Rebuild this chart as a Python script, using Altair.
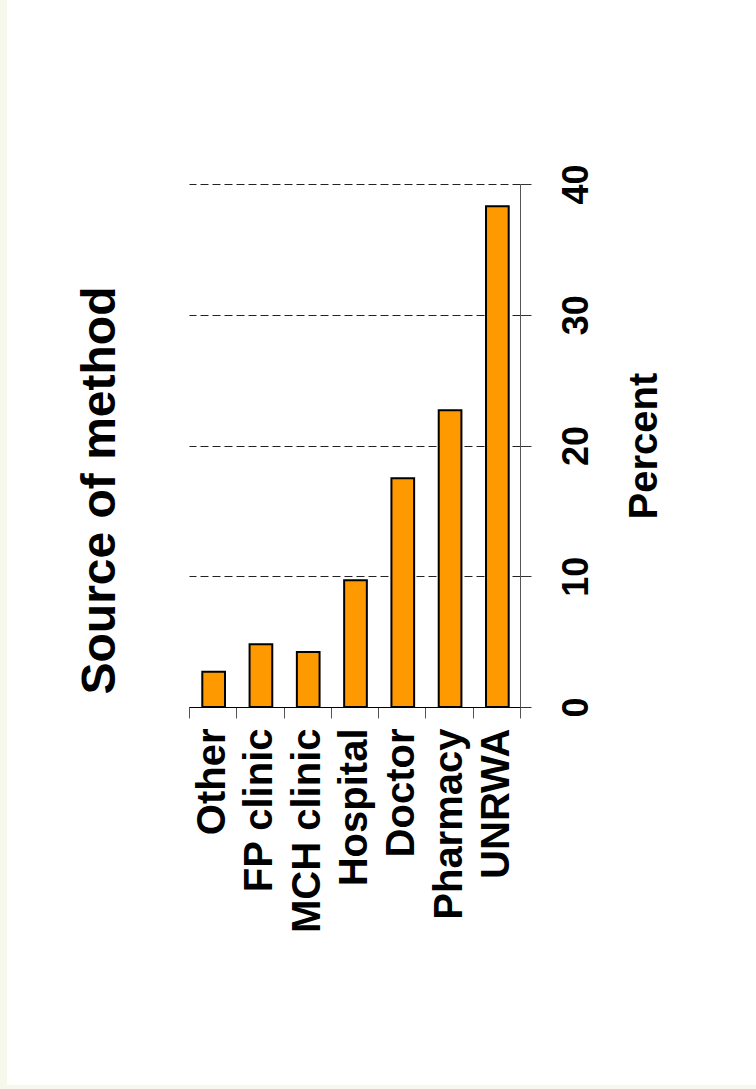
import altair as alt
import pandas as pd

# Where the method was obtained, share of users (%)
sources = ["Other", "FP clinic", "MCH clinic", "Hospital", "Doctor", "Pharmacy", "UNRWA"]
percent = [2.7, 4.8, 4.2, 9.7, 17.5, 22.7, 38.3]
percent_ticks = [0, 10, 20, 30, 40]

FONT = "Liberation Sans"
CREAM = "#f5f8ea"

df = pd.DataFrame({"source": sources, "percent": percent})

bars = alt.Chart(df).mark_bar(
    fill="#ff9900",
    stroke="black",
    strokeWidth=2,
    width=alt.RelativeBandSize(0.48),
    xOffset=1,
).encode(
    x=alt.X(
        "source:N",
        sort=sources,
        scale=alt.Scale(paddingInner=0, paddingOuter=0),
        axis=alt.Axis(
            title=None,
            labelAngle=270,
            labelAlign="right",
            labelBaseline="middle",
            labelFont=FONT,
            labelFontSize=40,
            labelFontWeight="bold",
            labelColor="black",
            labelPadding=10,
            labelLimit=0,
            tickSize=11,
            tickColor="#555555",
            domainColor="black",
            tickBand="extent",
        ),
    ),
    y=alt.Y(
        "percent:Q",
        scale=alt.Scale(domain=[0, 40], nice=False),
        axis=alt.Axis(
            orient="right",
            values=percent_ticks,
            title="Percent",
            titleAngle=270,
            titleBaseline="top",
            titleFont=FONT,
            titleFontSize=40,
            titleFontWeight="bold",
            titleColor="black",
            titlePadding=30,
            labelAngle=270,
            labelAlign="center",
            labelBaseline="top",
            labelFont=FONT,
            labelFontSize=36,
            labelFontWeight="bold",
            labelColor="black",
            labelPadding=28,
            labelFlush=False,
            tickSize=11,
            tickColor="#333333",
            domainColor="#555555",
            grid=True,
            gridDash=[8, 4],
            gridColor="#222222",
            gridOpacity=1,
        ),
    ),
)

# thin page border strips on the left and bottom edges
edge = pd.DataFrame({"k": [0]})
left_strip = alt.Chart(edge).mark_rect(color=CREAM).encode(
    x=alt.value(-189), x2=alt.value(-182), y=alt.value(-184), y2=alt.value(905)
)
bottom_strip = alt.Chart(edge).mark_rect(color=CREAM).encode(
    x=alt.value(-189), x2=alt.value(567), y=alt.value(901), y2=alt.value(905)
)

chart = alt.layer(left_strip, bottom_strip, bars).properties(
    width=331,
    height=523,
    padding={"left": 189, "top": 184, "right": 236, "bottom": 382},
    autosize=alt.AutoSizeParams(type="none"),
    background="white",
    title=alt.TitleParams(
        "Source of method",
        orient="left",
        anchor="middle",
        font=FONT,
        fontSize=48,
        fontWeight="bold",
        color="black",
        offset=-125,
        dx=-45,
    ),
).configure_view(stroke=None)

chart.save("out.html", embed_options={"renderer": "svg", "actions": False})
